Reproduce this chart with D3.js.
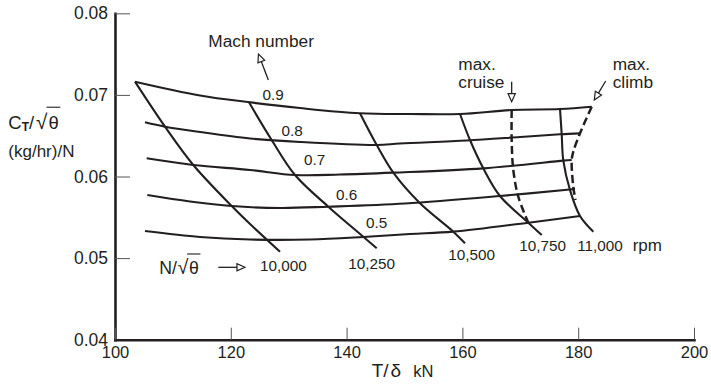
<!DOCTYPE html>
<html>
<head>
<meta charset="utf-8">
<script src="https://cdn.jsdelivr.net/npm/d3@7"></script>
<style>
    body { margin: 0; background: #fff; }
    text { font-family: "Liberation Sans", Arial, Helvetica, sans-serif; fill: #231f20; }
</style>
</head>
<body>
<svg id="chart" width="711" height="387"></svg>
<script>

// axis ticks
var xTicks = [100, 120, 140, 160, 180, 200];
var yTicks = [0.04, 0.05, 0.06, 0.07, 0.08];

// constant Mach number lines  [T/delta kN, CT/sqrt(theta)]
var machNames = ["0.9", "0.8", "0.7", "0.6", "0.5"];
var mach09 = [[103.45, 0.07162], [114.68, 0.06993], [123.32, 0.06909], [131.95, 0.06839], [142.31, 0.06775], [150.95, 0.06766], [159.59, 0.06766], [168.51, 0.06815], [176.86, 0.06827], [182.33, 0.06855]];
var mach08 = [[105.18, 0.06664], [108.64, 0.06610], [114.68, 0.06545], [123.32, 0.06466], [131.95, 0.06423], [145.20, 0.06386], [149.22, 0.06404], [160.74, 0.06441], [169.95, 0.06484], [176.86, 0.06517], [180.31, 0.06529]];
var mach07 = [[105.47, 0.06223], [113.52, 0.06141], [123.32, 0.06080], [131.09, 0.06018], [138.86, 0.06024], [148.07, 0.06047], [163.61, 0.06100], [177.43, 0.06194], [178.88, 0.06202]];
var mach06 = [[105.58, 0.05773], [112.95, 0.05694], [120.16, 0.05638], [128.50, 0.05614], [136.84, 0.05630], [150.09, 0.05669], [166.49, 0.05761], [179.45, 0.05847]];
var mach05 = [[105.18, 0.05332], [114.68, 0.05259], [123.32, 0.05228], [133.68, 0.05228], [142.88, 0.05259], [150.95, 0.05295], [158.43, 0.05324], [171.38, 0.05434], [180.31, 0.05516]];

// constant corrected speed lines
var rpmNames = ["10,000", "10,250", "10,500", "10,750", "11,000"];
var rpm10000 = [[103.45, 0.07162], [108.64, 0.06610], [113.52, 0.06141], [120.16, 0.05638], [123.32, 0.05418], [128.50, 0.05078]];
var rpm10250 = [[123.14, 0.06909], [127.06, 0.06447], [131.09, 0.06018], [136.84, 0.05630], [142.88, 0.05262], [145.20, 0.05120]];
var rpm10500 = [[142.31, 0.06775], [145.20, 0.06386], [148.07, 0.06047], [152.68, 0.05672], [158.43, 0.05324], [160.45, 0.05181]];
var rpm10750 = [[159.59, 0.06766], [161.31, 0.06447], [163.61, 0.06100], [166.49, 0.05761], [171.38, 0.05434], [173.70, 0.05283]];
var rpm11000 = [[176.86, 0.06827], [177.15, 0.06517], [177.43, 0.06194], [178.58, 0.05835], [180.31, 0.05516], [182.61, 0.05324]];

// rating limits (dashed)
var maxCruise = [[168.51, 0.06815], [168.51, 0.06447], [168.79, 0.06080], [169.66, 0.05752], [171.38, 0.05434]];
var maxClimb = [[182.33, 0.06855], [180.31, 0.06529], [179.15, 0.06304], [178.88, 0.06202], [179.15, 0.05875], [179.53, 0.05712]];

// where the curve labels sit (data units, text baseline)
var machLabelAt = [[127.3, 0.06938], [130.6, 0.06496], [134.5, 0.06137], [140.0, 0.05712], [145.2, 0.05363]];
var rpmLabelAt = [[129.07, 0.04846], [144.34, 0.04867], [161.61, 0.04977], [173.87, 0.05091], [183.77, 0.05091]];

var svg = d3.select("#chart");
var ink = "#231f20";

var x = d3.scaleLinear().domain([100, 200]).range([115, 694]);
var y = d3.scaleLinear().domain([0.04, 0.08]).range([339.7, 13.3]);

// axes, ticks pointing into the plot
var yAxis = d3.axisLeft(y).tickValues(yTicks).tickFormat(d3.format(".2f"))
    .tickSize(-15).tickSizeOuter(0).tickPadding(7);
var xAxis = d3.axisBottom(x).tickValues(xTicks).tickFormat(d3.format("d"))
    .tickSize(-12).tickSizeOuter(0).tickPadding(7);

var gy = svg.append("g").attr("transform", "translate(115,0)").call(yAxis);
var gx = svg.append("g").attr("transform", "translate(0,339.7)").call(xAxis);

[gx, gy].forEach(function (g) {
    g.select(".domain").attr("stroke", ink).attr("stroke-width", 2.6).attr("stroke-linecap", "square");
    g.selectAll(".tick line").attr("stroke", "#555").attr("stroke-width", 1);
    g.selectAll(".tick text").attr("fill", ink).style("font-family", "'Liberation Sans', Arial, sans-serif");
});
gy.selectAll(".tick text").attr("font-size", 17.5);
gx.selectAll(".tick text").attr("font-size", 16.5);

var line = d3.line()
    .x(function (d) { return x(d[0]); })
    .y(function (d) { return y(d[1]); })
    .curve(d3.curveCatmullRom.alpha(0.5));

var plot = svg.append("g");

plot.selectAll(".mach")
    .data([mach09, mach08, mach07, mach06, mach05])
    .enter()
    .append("path")
    .attr("class", "mach")
    .attr("d", line)
    .attr("fill", "none")
    .attr("stroke", ink)
    .attr("stroke-width", 2.1);

plot.selectAll(".rpm")
    .data([rpm10000, rpm10250, rpm10500, rpm10750, rpm11000])
    .enter()
    .append("path")
    .attr("class", "rpm")
    .attr("d", line)
    .attr("fill", "none")
    .attr("stroke", ink)
    .attr("stroke-width", 2.1);

plot.selectAll(".limit")
    .data([maxCruise, maxClimb])
    .enter()
    .append("path")
    .attr("class", "limit")
    .attr("d", line)
    .attr("fill", "none")
    .attr("stroke", ink)
    .attr("stroke-width", 2.5)
    .attr("stroke-dasharray", "8,4");

// curve labels
plot.selectAll(".machLabel")
    .data(machNames)
    .enter()
    .append("text")
    .attr("class", "machLabel")
    .attr("x", function (d, i) { return x(machLabelAt[i][0]); })
    .attr("y", function (d, i) { return y(machLabelAt[i][1]); })
    .attr("text-anchor", "middle")
    .attr("font-size", 15.3)
    .text(function (d) { return d; });

plot.selectAll(".rpmLabel")
    .data(rpmNames)
    .enter()
    .append("text")
    .attr("class", "rpmLabel")
    .attr("x", function (d, i) { return x(rpmLabelAt[i][0]); })
    .attr("y", function (d, i) { return y(rpmLabelAt[i][1]); })
    .attr("text-anchor", "middle")
    .attr("font-size", 15.3)
    .text(function (d) { return d; });

plot.append("text").attr("x", x(189.41)).attr("y", y(0.05091)).attr("font-size", 17).text("rpm");

// open-headed pointer arrows
function arrow(x1, y1, x2, y2) {
    var ax = x(x1), ay = y(y1), bx = x(x2), by = y(y2);
    var ang = Math.atan2(by - ay, bx - ax);
    var len = 8, half = 3.6;
    var cx = bx - len * Math.cos(ang), cy = by - len * Math.sin(ang);
    svg.append("line")
        .attr("x1", ax).attr("y1", ay).attr("x2", cx).attr("y2", cy)
        .attr("stroke", ink).attr("stroke-width", 1.3);
    var p1 = [cx + half * Math.sin(ang), cy - half * Math.cos(ang)];
    var p2 = [cx - half * Math.sin(ang), cy + half * Math.cos(ang)];
    svg.append("path")
        .attr("d", "M" + bx + "," + by + "L" + p1 + "L" + p2 + "Z")
        .attr("fill", "#fff").attr("stroke", ink).attr("stroke-width", 1.2);
}

// text followed by a square-root-of-theta group
function rootTheta(g, px, base, fs) {
    var r = g.append("text").attr("x", px).attr("y", base).attr("font-size", fs * 1.12).text("√");
    var rb = r.node().getBBox();
    var t = g.append("text").attr("x", rb.x + rb.width + 0.5).attr("y", base).attr("font-size", fs).text("θ");
    var tb = t.node().getBBox();
    var top = base - fs * 1.15;
    g.append("line")
        .attr("x1", rb.x + rb.width - 1.5).attr("x2", tb.x + tb.width + 1.5)
        .attr("y1", top).attr("y2", top)
        .attr("stroke", ink).attr("stroke-width", 1.1);
}

svg.append("text").attr("x", x(116.11)).attr("y", y(0.07587)).attr("font-size", 17.3).text("Mach number");
arrow(126.48, 0.07183, 124.78, 0.07501);

svg.append("text").attr("x", x(159.29)).attr("y", y(0.07305)).attr("font-size", 17.3).text("max.");
svg.append("text").attr("x", x(159.29)).attr("y", y(0.07081)).attr("font-size", 17.3).text("cruise");
arrow(168.51, 0.07162, 168.51, 0.06917);

svg.append("text").attr("x", x(185.96)).attr("y", y(0.07305)).attr("font-size", 17.3).text("max.");
svg.append("text").attr("x", x(185.96)).attr("y", y(0.07081)).attr("font-size", 17.3).text("climb");
arrow(184.75, 0.0717, 182.78, 0.06937);

// N/sqrt(theta) pointer
var nGroup = svg.append("g");
nGroup.append("text").attr("x", x(107.65)).attr("y", y(0.04801)).attr("font-size", 17.7).text("N/");
var nb = nGroup.select("text").node().getBBox();
rootTheta(nGroup, nb.x + nb.width + 0.5, y(0.04801), 17.7);
arrow(117.84, 0.04887, 122.45, 0.04887);

// y axis title
var yt = svg.append("g");
var c = yt.append("text").attr("x", 8.3).attr("y", 128.5).attr("font-size", 18.5);
c.append("tspan").text("C");
c.append("tspan").attr("font-size", 12).attr("font-weight", "bold").attr("dy", 2.5).text("T");
c.append("tspan").attr("dy", -2.5).text("/ ");
var cb = c.node().getBBox();
rootTheta(yt, cb.x + cb.width + 1, 128.5, 18.5);
yt.append("text").attr("x", 8.3).attr("y", 156.7).attr("font-size", 17).text("(kg/hr)/N");

// x axis title
var xt = svg.append("text").attr("x", 371.7).attr("y", 376.7).attr("font-size", 19);
xt.append("tspan").text("T/");
xt.append("tspan").attr("dx", 2).text("δ");
xt.append("tspan").attr("dx", 12).attr("font-size", 16.5).text("kN");

</script>
</body>
</html>
